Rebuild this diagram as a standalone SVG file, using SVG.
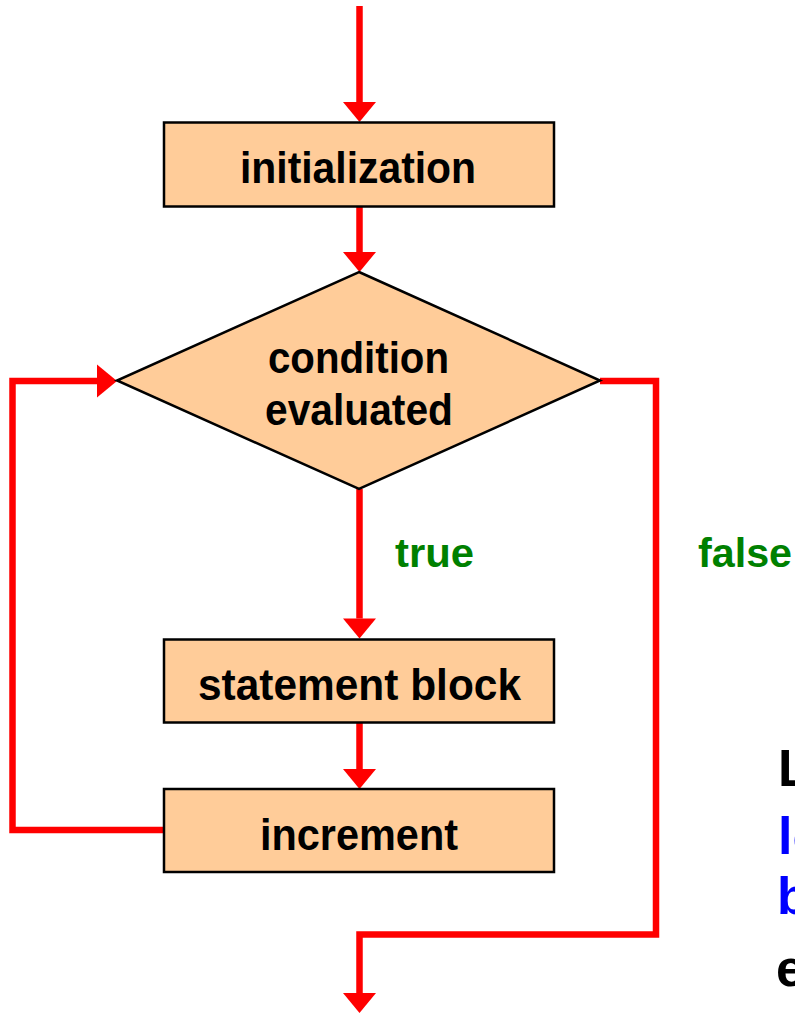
<svg xmlns="http://www.w3.org/2000/svg" width="795" height="1013" viewBox="0 0 795 1013">
  <style>
    .box { fill: #FFCC99; stroke: #000000; stroke-width: 2.5; }
    .flow { fill: none; stroke: #FF0000; stroke-width: 6.5; stroke-linejoin: miter; stroke-linecap: butt; }
    .lbl { font-family: "Liberation Sans", Arial, sans-serif; font-weight: 700; font-size: 44px; fill: #000000; }
    .cond { font-family: "Liberation Sans", Arial, sans-serif; font-weight: 700; font-size: 40px; fill: #008000; }
    .side { font-family: "Liberation Sans", Arial, sans-serif; font-weight: 700; font-size: 52px; }
  </style>
  <defs>
    <marker id="head" markerUnits="userSpaceOnUse" markerWidth="21" markerHeight="34" refX="0" refY="16.5" orient="auto" overflow="visible">
      <path d="M0,0 L20,16.5 L0,33 Z" fill="#FF0000"/>
    </marker>
  </defs>

  <rect width="795" height="1013" fill="#FFFFFF"/>

  <!-- connectors -->
  <g id="connectors">
    <path class="flow" d="M359.5,6 V102" marker-end="url(#head)"/>
    <path class="flow" d="M359.5,207 V252" marker-end="url(#head)"/>
    <path class="flow" d="M359.5,489 V618.5" marker-end="url(#head)"/>
    <path class="flow" d="M359.5,723 V769" marker-end="url(#head)"/>
    <path class="flow" d="M163,830 H12.5 V381 H97" marker-end="url(#head)"/>
    <path class="flow" d="M600,381 H656 V934.5 H359.5 V993" marker-end="url(#head)"/>
  </g>

  <!-- nodes -->
  <g id="init">
    <rect class="box" x="164" y="122.5" width="390" height="84"/>
    <text class="lbl" x="240" y="183" textLength="236" lengthAdjust="spacingAndGlyphs">initialization</text>
  </g>

  <g id="condition">
    <polygon class="box" points="359,272 600,380.5 359,489 117,380.5"/>
    <text class="lbl" x="268" y="373" textLength="181" lengthAdjust="spacingAndGlyphs">condition</text>
    <text class="lbl" x="265" y="425" textLength="188" lengthAdjust="spacingAndGlyphs">evaluated</text>
  </g>

  <g id="statement">
    <rect class="box" x="164" y="639.5" width="390" height="83"/>
    <text class="lbl" x="198" y="700" textLength="323" lengthAdjust="spacingAndGlyphs">statement block</text>
  </g>

  <g id="increment">
    <rect class="box" x="164" y="789" width="390" height="83"/>
    <text class="lbl" x="260" y="850" textLength="198" lengthAdjust="spacingAndGlyphs">increment</text>
  </g>

  <!-- branch labels -->
  <g id="labels">
    <text class="cond" x="395" y="566.5" textLength="79" lengthAdjust="spacingAndGlyphs">true</text>
    <text class="cond" x="698" y="566.5" textLength="94" lengthAdjust="spacingAndGlyphs">false</text>
  </g>

  <!-- side note, running off the right edge -->
  <g id="note">
    <text class="side" x="778" y="786" fill="#000000">L</text>
    <text class="side" x="778" y="854" fill="#0000FF">lo</text>
    <text class="side" x="777" y="914" fill="#0000FF">b</text>
    <text class="side" x="776" y="986" fill="#000000">e</text>
  </g>
</svg>
